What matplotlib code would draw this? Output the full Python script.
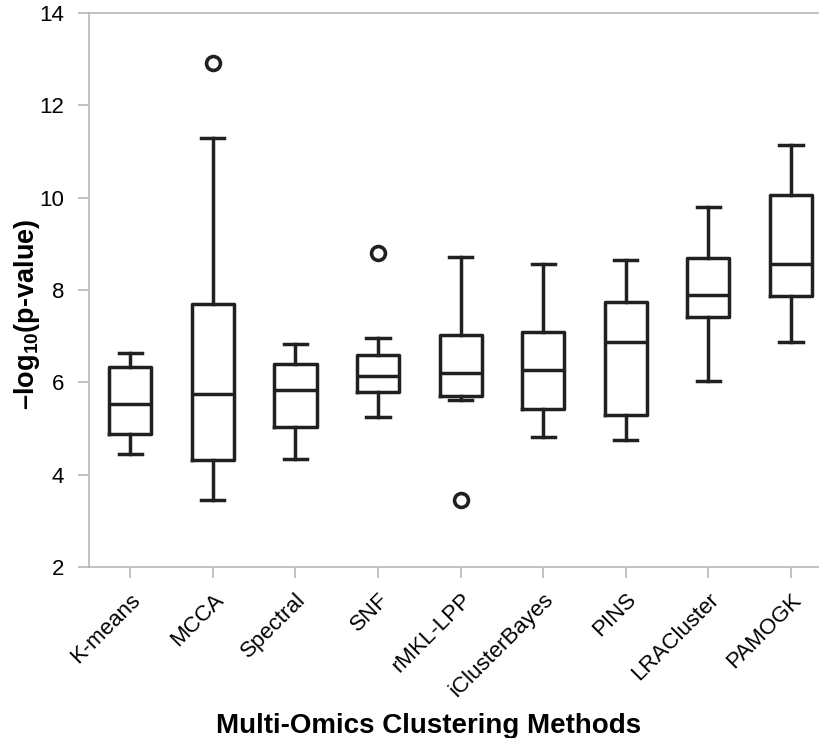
import matplotlib
matplotlib.use("Agg")
import matplotlib.pyplot as plt

plt.rcParams['font.family'] = ['Liberation Sans', 'DejaVu Sans']
plt.rcParams['mathtext.fontset'] = 'custom'
plt.rcParams['mathtext.rm'] = 'Liberation Sans'
plt.rcParams['mathtext.bf'] = 'Liberation Sans:bold'

methods = ["K-means", "MCCA", "Spectral", "SNF", "rMKL-LPP",
           "iClusterBayes", "PINS", "LRACluster", "PAMOGK"]
whisker_low = [4.44, 3.45, 4.35, 5.24, 5.62, 4.82, 4.76, 6.02, 6.87]
q1 = [4.89, 4.31, 5.04, 5.78, 5.70, 5.42, 5.29, 7.41, 7.88]
median = [5.54, 5.74, 5.84, 6.13, 6.21, 6.26, 6.88, 7.90, 8.57]
q3 = [6.33, 7.70, 6.40, 6.59, 7.03, 7.09, 7.75, 8.69, 10.05]
whisker_high = [6.63, 11.30, 6.82, 6.96, 8.71, 8.56, 8.65, 9.79, 11.13]
outliers = [[], [12.92], [], [8.81], [3.45], [], [], [], []]

y_ticks = [2, 4, 6, 8, 10, 12, 14]

stats = []
for i, name in enumerate(methods):
    stats.append(dict(label=name, whislo=whisker_low[i], q1=q1[i],
                      med=median[i], q3=q3[i], whishi=whisker_high[i],
                      fliers=outliers[i]))

ink = '#231f20'
grey = '#b8b8b8'

W, H = 819, 738
fig = plt.figure(figsize=(W / 100, H / 100), dpi=100)
ax_left, ax_top, ax_bottom = 89, 13, 567
ax = fig.add_axes([ax_left / W, 1 - ax_bottom / H, 1 - ax_left / W,
                   (ax_bottom - ax_top) / H])

lw = 2.5
ax.bxp(stats, positions=range(len(methods)), widths=0.51, capwidths=0.28,
       boxprops=dict(color=ink, linewidth=lw),
       medianprops=dict(color=ink, linewidth=lw),
       whiskerprops=dict(color=ink, linewidth=lw),
       capprops=dict(color=ink, linewidth=lw),
       flierprops=dict(marker='o', markersize=10, markerfacecolor='white',
                       markeredgecolor=ink, markeredgewidth=2.6),
       patch_artist=False)

ax.set_ylim(2, 14)
ax.set_xlim(-0.5, 8 + (819 - 791) / 82.6)
ax.set_yticks(y_ticks)
ax.set_yticklabels([str(t) for t in y_ticks], fontsize=16)
ax.set_xticks(range(len(methods)))
ax.set_xticklabels(methods, fontsize=16, rotation=45, ha='right',
                   rotation_mode='anchor')

for side in ['left', 'bottom', 'top']:
    ax.spines[side].set_color(grey)
    ax.spines[side].set_linewidth(1.2)
ax.spines['right'].set_visible(False)
ax.tick_params(axis='both', colors=grey, length=8, width=1.2,
               labelcolor='black')
ax.tick_params(axis='y', pad=10)
ax.tick_params(axis='x', pad=8)

fig.text(27 / W, 1 - 314 / H, '\u2013log$_{\\mathbf{10}}$(p-value)',
         fontsize=19.5, fontweight='bold', rotation=90,
         ha='center', va='center')
fig.text(429 / W, 1 - 733 / H, 'Multi-Omics Clustering Methods',
         fontsize=20, fontweight='bold', ha='center', va='baseline')

fig.savefig('out.png', dpi=100)
